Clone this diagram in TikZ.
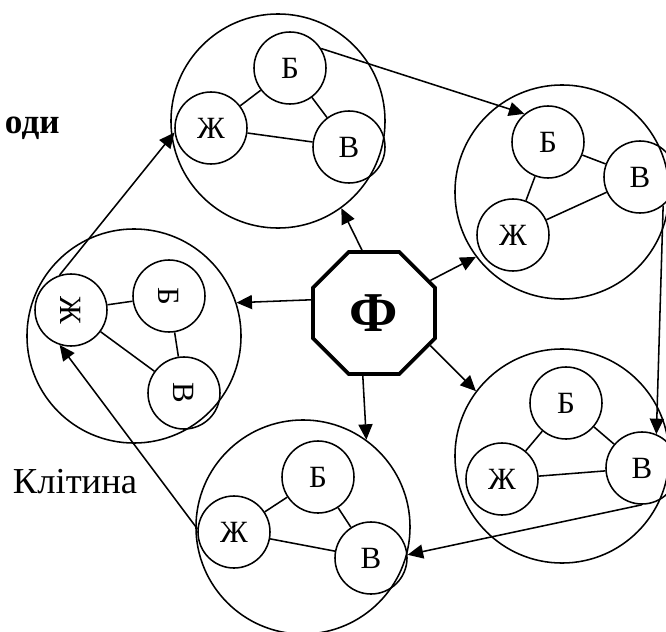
\documentclass[tikz,border=0pt]{standalone}
\usepackage{fontspec}
\setmainfont{Liberation Serif}
\usetikzlibrary{
    shapes.geometric,
    arrows.meta,
}

\begin{document}
\begin{tikzpicture}[
    x=0.025cm, y=-0.025cm,
    cell/.style={circle, draw, line width=1.1pt, minimum size=5.35cm, inner sep=0pt},
    part/.style={circle, draw, line width=1.1pt, minimum size=1.8cm, inner sep=0pt, font=\fontsize{22}{24}\selectfont},
    link/.style={line width=1.1pt},
    arr/.style={-{Triangle[length=11pt, width=10pt]}, line width=1.1pt}
]
    \useasboundingbox (0,0) rectangle (666,632);
    % cells
    \node[cell] (cellTop)  at (278,121) {};
    \node[cell] (cellRT)   at (562,192) {};
    \node[cell] (cellRB)   at (562,456) {};
    \node[cell] (cellBot)  at (303,527) {};
    \node[cell] (cellLeft) at (134,336) {};
    % top cell
    \node[part] (tB) at (290,68)  {Б};
    \node[part] (tZ) at (211,128) {Ж};
    \node[part] (tV) at (349,147) {В};
    % right-top cell
    \node[part] (rtB) at (548,142) {Б};
    \node[part] (rtV) at (640,177) {В};
    \node[part] (rtZ) at (513,235) {Ж};
    % right-bottom cell
    \node[part] (rbB) at (566,403) {Б};
    \node[part] (rbZ) at (502,479) {Ж};
    \node[part] (rbV) at (642,468) {В};
    % bottom cell
    \node[part] (bB) at (318,477) {Б};
    \node[part] (bZ) at (234,532) {Ж};
    \node[part] (bV) at (371,558) {В};
    % left cell (rotated letters)
    \node[part, rotate=-90] (lZ) at (71,310)  {Ж};
    \node[part, rotate=-90] (lB) at (169,296) {Б};
    \node[part, rotate=-90] (lV) at (184,393) {В};
    \foreach \c in {t, rt, rb, b, l} {
        \draw[link] (\c Z) -- (\c B);
        \draw[link] (\c B) -- (\c V);
        \draw[link] (\c Z) -- (\c V);
    }
    % centre
    \node[regular polygon, regular polygon sides=8, draw, line width=2.6pt, minimum size=3.3cm, inner sep=0pt, font=\fontsize{40}{42}\selectfont\bfseries] (phi) at (374,313) {Ф};
    \draw[arr] ([xshift=-0.3cm]phi.north) -- (cellTop.-54);
    \draw[arr] ([yshift=0.33cm]phi.west) -- (cellLeft.18);
    \draw[arr] (phi.30) -- (cellRT.217);
    \draw[arr] (phi.-30) -- (cellRB.143);
    \draw[arr] ([xshift=-0.28cm]phi.south) -- (cellBot.54);
    % cycle between cells
    \draw[arr] (tB.32) -- (rtB.130);
    \draw[arr] (rtV.-51) -- (rbV.67);
    \draw[arr] (rbV.-90) -- (bV.5);
    \draw[arr] (bZ.175) -- (lZ.-18);
    \draw[arr] (lZ.198) -- (tZ.187);
    % labels
    \node[anchor=base west, font=\fontsize{25}{27}\selectfont\bfseries] (methods) at (0,133) {оди};
    \node[anchor=base west, font=\fontsize{26}{28}\selectfont] (cellLabel) at (8,493) {Клітина};
\end{tikzpicture}
\end{document}
